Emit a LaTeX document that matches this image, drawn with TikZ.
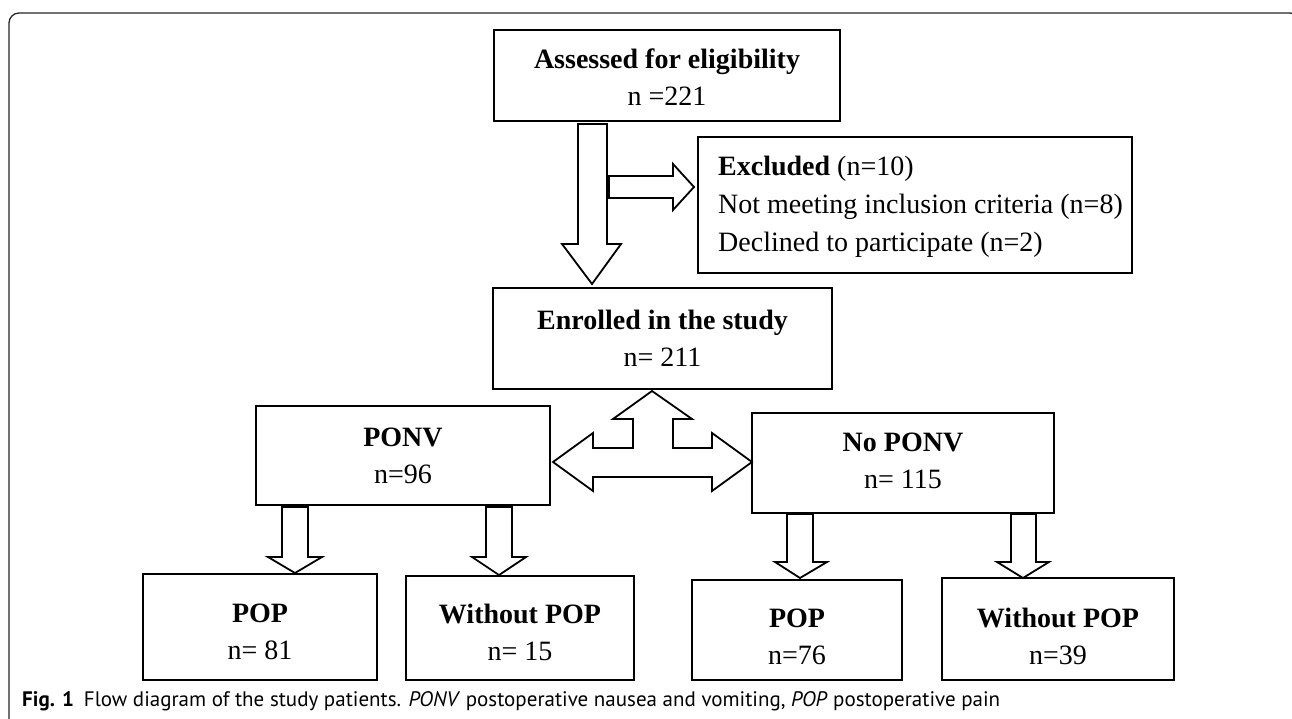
\documentclass[tikz,border=0pt]{standalone}
\usepackage{fontspec}
\setmainfont{Liberation Serif}
\newfontfamily\capfont{PT Sans}
\begin{document}
\begin{tikzpicture}[x=1pt,y=-1pt,
  box/.style={draw, line width=1.8pt, inner sep=0pt, align=center,
    font=\fontsize{28}{37}\selectfont},
  boxtext/.style={inner sep=0pt, align=center, font=\fontsize{28}{37}\selectfont},
  blockarrow/.style={draw, line width=1.8pt, fill=white, line join=miter}]
\useasboundingbox (0,0) rectangle (1292,719);
\clip (0,0) rectangle (1292,719);
% outer frame
\draw[line width=1.3pt, black!85, rounded corners=10pt] (9,740) -- (9,13) -- (1300,13) -- (1300,740);

% boxes
\node[box, minimum width=346pt, minimum height=91pt] (assess) at (667,75.5) {};
\node[boxtext, yshift=-2pt] (assesst) at (assess.center)
  {\textbf{Assessed for eligibility}\\n =221};
\node[box, minimum width=434pt, minimum height=136pt] (excl) at (915,205) {};
\node[anchor=west, inner sep=0pt, align=left, font=\fontsize{28}{38}\selectfont]
  (excltext) at (718,207)
  {\textbf{Excluded} (n=10)\\Not meeting inclusion criteria (n=8)\\Declined to participate (n=2)};
\node[box, minimum width=339pt, minimum height=101pt] (enrol) at (662.5,338.5)
  {\textbf{Enrolled in the study}\\n= 211};
\node[box, minimum width=294pt, minimum height=99pt] (ponv) at (403,455.5)
  {\textbf{PONV}\\n=96};
\node[box, minimum width=302pt, minimum height=100pt] (noponv) at (903,463) {};
\node[boxtext, yshift=2pt] (noponvt) at (noponv.center) {\textbf{No PONV}\\n= 115};
\node[box, minimum width=234pt, minimum height=106pt] (pop1) at (260,627) {};
\node[boxtext, yshift=-5pt] (pop1t) at (pop1.center) {\textbf{POP}\\n= 81};
\node[box, minimum width=228pt, minimum height=104pt] (wpop1) at (520,628) {};
\node[boxtext, yshift=-4pt] (wpop1t) at (wpop1.center) {\textbf{Without POP}\\n= 15};
\node[box, minimum width=210pt, minimum height=100pt] (pop2) at (797,630) {};
\node[boxtext, yshift=-7pt] (pop2t) at (pop2.center) {\textbf{POP}\\n=76};
\node[box, minimum width=232pt, minimum height=102pt] (wpop2) at (1058,629) {};
\node[boxtext, yshift=-7pt] (wpop2t) at (wpop2.center) {\textbf{Without POP}\\n=39};

% block arrows
\draw[blockarrow] (578,124) -- (607,124) -- (607,244) -- (621,244) -- (592,284)
  -- (562,244) -- (578,244) -- cycle;
\draw[blockarrow] (609,176) -- (673,176) -- (673,164) -- (694,187) -- (673,210)
  -- (673,198) -- (609,198) -- cycle;
\draw[blockarrow] (652,391) -- (692,419) -- (673,419) -- (673,448) -- (712,448)
  -- (712,433) -- (752,462) -- (712,491) -- (712,477) -- (593,477) -- (593,491)
  -- (553,462) -- (593,433) -- (593,448) -- (633,448) -- (633,419) -- (613,419) -- cycle;
\draw[blockarrow] (282,507) -- (308,507) -- (308,557) -- (322,557) -- (295,573)
  -- (268,557) -- (282,557) -- cycle;
\draw[blockarrow] (486,507) -- (512,507) -- (512,557) -- (526,557) -- (499,575)
  -- (472,557) -- (486,557) -- cycle;
\draw[blockarrow] (787,514) -- (813,514) -- (813,562) -- (827,562) -- (800,578)
  -- (775,562) -- (787,562) -- cycle;
\draw[blockarrow] (1011,514) -- (1036,514) -- (1036,562) -- (1049,562) -- (1023,578)
  -- (997,562) -- (1011,562) -- cycle;

% caption
\node[anchor=west, inner sep=0pt] (cap) at (22,701)
  {\capfont\fontsize{21}{23}\selectfont\textbf{Fig. 1}\hspace{10pt}Flow diagram of the study patients. \textit{PONV} postoperative nausea and vomiting, \textit{POP} postoperative pain};
\end{tikzpicture}
\end{document}
